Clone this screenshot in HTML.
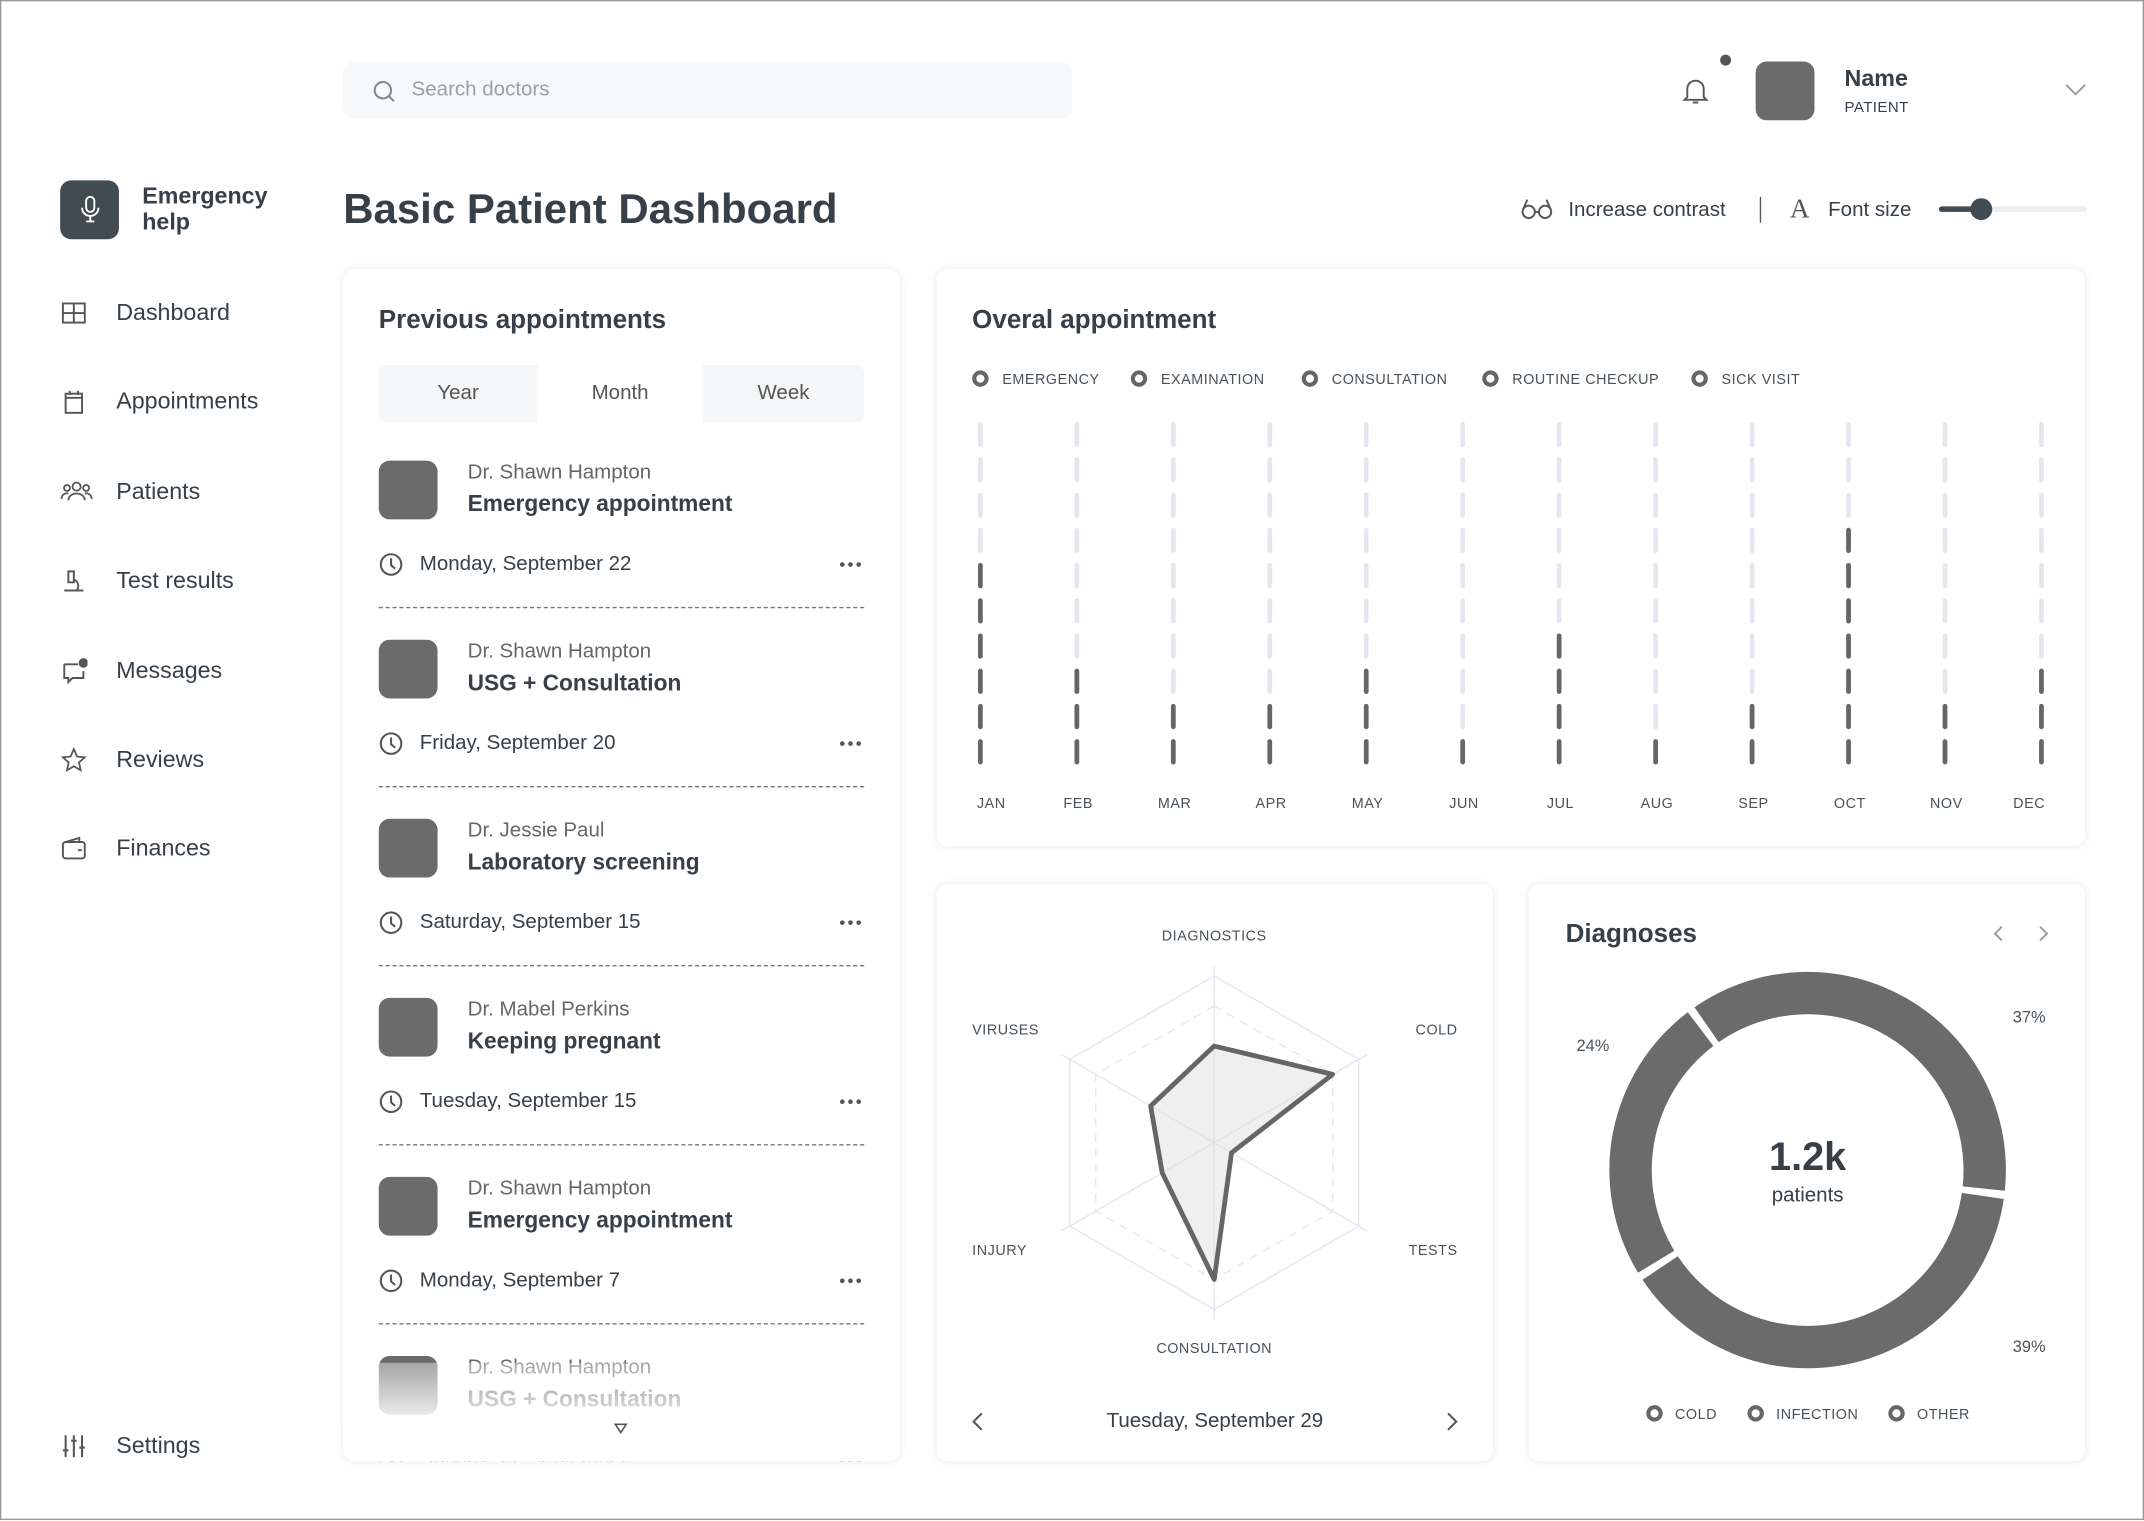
<!DOCTYPE html>
<html><head><meta charset="utf-8">
<style>
html,body{margin:0;padding:0;background:#fff;}
body{width:2144px;height:1520px;overflow:hidden;font-family:"Liberation Sans",sans-serif;color:#374048;}
#root{position:absolute;left:0;top:0;width:1568px;height:1112px;transform:scale(1.36735,1.36691);transform-origin:0 0;box-sizing:border-box;border:1px solid #9a9a9a;background:#fff;}
.abs{position:absolute;}
.card{position:absolute;background:#fff;border-radius:8px;box-shadow:0 0 6px rgba(0,0,0,0.09);}
.nav{position:absolute;left:84px;font-size:17px;color:#374048;transform:translateY(-50%);}
.navi{position:absolute;left:43px;width:20px;height:20px;transform:translateY(-50%);}
.t{position:absolute;white-space:nowrap;}
.ctitle{font-size:19px;font-weight:bold;color:#374048;}
</style></head><body>
<div id="root">

<!-- top bar -->
<div class="abs" style="left:250px;top:44px;width:533px;height:42px;background:#f8f9fa;border-radius:8px;">
  <svg class="abs" style="left:21px;top:13px" width="18" height="18"><circle cx="8" cy="8" r="6" fill="none" stroke="#888" stroke-width="1.5"/><line x1="12.5" y1="12.5" x2="16" y2="16" stroke="#888" stroke-width="1.5"/></svg>
  <div class="t" style="left:50px;top:12px;font-size:15px;color:#9aa0a6;">Search doctors</div>
</div>
<svg class="abs" style="left:1229px;top:55px" width="20" height="22"><path d="M4 15 V9 a6 6 0 0 1 12 0 V15 L18 17 H2 Z" fill="none" stroke="#555" stroke-width="1.4"/><path d="M8 19 h4" stroke="#555" stroke-width="1.4"/></svg>
<div class="abs" style="left:1257px;top:39px;width:8px;height:8px;border-radius:50%;background:#555;"></div>
<div class="abs" style="left:1283px;top:44px;width:43px;height:43px;border-radius:8px;background:#6b6b6b;"></div>
<div class="t" style="left:1348px;top:47px;font-size:17px;font-weight:bold;">Name</div>
<div class="t" style="left:1348px;top:72px;font-size:11px;letter-spacing:0.3px;">PATIENT</div>
<svg class="abs" style="left:1508px;top:59px" width="18" height="12"><path d="M2 2 L9 9 L16 2" fill="none" stroke="#999" stroke-width="1.4"/></svg>

<!-- sidebar -->
<div class="abs" style="left:43px;top:131px;width:43px;height:43px;border-radius:8px;background:#414b52;">
  <svg class="abs" style="left:13px;top:11px" width="18" height="22"><rect x="6" y="1" width="6" height="11" rx="3" fill="none" stroke="#fff" stroke-width="1.4"/><path d="M3 9 a6 6 0 0 0 12 0 M9 15 V19 M6 19 H12" fill="none" stroke="#fff" stroke-width="1.4"/></svg>
</div>
<div class="t" style="left:103px;top:133px;font-size:17px;font-weight:bold;line-height:19px;">Emergency<br>help</div>

<svg class="navi" style="top:228px"><rect x="2" y="3" width="16" height="14" fill="none" stroke="#555" stroke-width="1.4"/><path d="M10 3V17M2 10H18" stroke="#555" stroke-width="1.4"/></svg>
<div class="nav" style="top:228px">Dashboard</div>
<svg class="navi" style="top:293px"><rect x="4" y="4" width="12" height="14" fill="none" stroke="#555" stroke-width="1.4"/><path d="M7 2V5M13 2V5M4 7H16" stroke="#555" stroke-width="1.4"/></svg>
<div class="nav" style="top:293px">Appointments</div>
<svg class="navi" style="top:359px;width:24px"><circle cx="12" cy="6" r="3" fill="none" stroke="#555" stroke-width="1.3"/><circle cx="5" cy="7" r="2.2" fill="none" stroke="#555" stroke-width="1.3"/><circle cx="19" cy="7" r="2.2" fill="none" stroke="#555" stroke-width="1.3"/><path d="M6 16a6 5 0 0 1 12 0M1 15a4 4 0 0 1 5-4M23 15a4 4 0 0 0-5-4" fill="none" stroke="#555" stroke-width="1.3"/></svg>
<div class="nav" style="top:359px">Patients</div>
<svg class="navi" style="top:424px"><path d="M6 3H10V11H6ZM3 17H17M10 9a5 5 0 0 1 2 8" fill="none" stroke="#555" stroke-width="1.4"/></svg>
<div class="nav" style="top:424px">Test results</div>
<svg class="navi" style="top:490px"><path d="M3 5H13M3 5V15H6V18L9 15H17V10" fill="none" stroke="#555" stroke-width="1.4"/><circle cx="17" cy="4" r="3.5" fill="#555"/></svg>
<div class="nav" style="top:490px">Messages</div>
<svg class="navi" style="top:555px"><path d="M10 2L12.4 7.5L18 8L13.8 11.8L15 17.5L10 14.6L5 17.5L6.2 11.8L2 8L7.6 7.5Z" fill="none" stroke="#555" stroke-width="1.3"/></svg>
<div class="nav" style="top:555px">Reviews</div>
<svg class="navi" style="top:620px"><rect x="2" y="5" width="16" height="12" rx="2" fill="none" stroke="#555" stroke-width="1.4"/><path d="M4 5L14 2V5M13 11H16" fill="none" stroke="#555" stroke-width="1.4"/></svg>
<div class="nav" style="top:620px">Finances</div>
<svg class="navi" style="top:1057px"><path d="M4 2V18M10 2V18M16 2V18M2 13H6M8 6H12M14 11H18" stroke="#555" stroke-width="1.5"/></svg>
<div class="nav" style="top:1057px">Settings</div>

<!-- header -->
<div class="t" style="left:250px;top:134px;font-size:30.7px;font-weight:bold;color:#374048;">Basic Patient Dashboard</div>
<svg class="abs" style="left:1111px;top:143px" width="24" height="18"><circle cx="6" cy="11" r="4.5" fill="none" stroke="#555" stroke-width="1.4"/><circle cx="18" cy="11" r="4.5" fill="none" stroke="#555" stroke-width="1.4"/><path d="M10.5 11H13.5M2 9L5 2M22 9L19 2" fill="none" stroke="#555" stroke-width="1.4"/></svg>
<div class="t" style="left:1146px;top:144px;font-size:15px;">Increase contrast</div>
<div class="abs" style="left:1286px;top:143px;width:1px;height:19px;background:#555;"></div>
<div class="t" style="left:1308px;top:141px;font-size:20px;font-family:'Liberation Serif',serif;color:#555;">A</div>
<div class="t" style="left:1336px;top:144px;font-size:15px;">Font size</div>
<div class="abs" style="left:1417px;top:150px;width:108px;height:4px;background:#eceef0;border-radius:2px;">
  <div class="abs" style="left:0;top:0;width:31px;height:4px;background:#414b52;border-radius:2px;"></div>
  <div class="abs" style="left:23px;top:-6px;width:16px;height:16px;border-radius:50%;background:#414b52;"></div>
</div>

<!-- previous appointments -->
<div class="card" style="left:250px;top:196px;width:407px;height:872px;overflow:hidden;">
  <div class="t ctitle" style="left:26px;top:27px">Previous appointments</div>
  <div class="abs" style="left:26px;top:70px;width:116px;height:42px;background:#f5f6f7;border-radius:6px 0 0 6px;font-size:15px;text-align:center;line-height:42px;color:#555;">Year</div>
  <div class="abs" style="left:142px;top:70px;width:121px;height:42px;background:#fff;font-size:15px;text-align:center;line-height:42px;color:#555;">Month</div>
  <div class="abs" style="left:263px;top:70px;width:118px;height:42px;background:#f5f6f7;border-radius:0 6px 6px 0;font-size:15px;text-align:center;line-height:42px;color:#555;">Week</div>
  <div id="appts"></div>
  <div class="abs" style="left:0;top:800px;width:407px;height:72px;background:linear-gradient(rgba(255,255,255,0.4),#fff 70%);"></div>
  <svg class="abs" style="left:198px;top:844px" width="10" height="8"><path d="M1 1H9L5 7Z" fill="none" stroke="#555" stroke-width="1.2"/></svg>
</div>

<!-- overall appointment -->
<div class="card" style="left:684px;top:196px;width:840px;height:422px;">
  <div class="t ctitle" style="left:26px;top:27px">Overal appointment</div>
</div>
<svg class="abs" id="bars" style="left:0;top:0" width="1568" height="1112"></svg>

<!-- radar card -->
<div class="card" style="left:684px;top:646px;width:407px;height:422px;">
  <div class="t" style="left:0;width:407px;text-align:center;top:384px;font-size:15px;">Tuesday, September 29</div>
  <svg class="abs" style="left:24px;top:385px" width="12" height="16"><path d="M9 2L3 8L9 14" fill="none" stroke="#555" stroke-width="1.5"/></svg>
  <svg class="abs" style="left:371px;top:385px" width="12" height="16"><path d="M3 2L9 8L3 14" fill="none" stroke="#555" stroke-width="1.5"/></svg>
</div>
<svg class="abs" id="radar" style="left:0;top:0" width="1568" height="1112"></svg>

<!-- diagnoses -->
<div class="card" style="left:1117px;top:646px;width:407px;height:422px;">
  <div class="t ctitle" style="left:27px;top:26px">Diagnoses</div>
  <svg class="abs" style="left:338px;top:29px" width="10" height="16"><path d="M8 2L3 7L8 12" fill="none" stroke="#999" stroke-width="1.4"/></svg>
  <svg class="abs" style="left:372px;top:29px" width="10" height="16"><path d="M2 2L7 7L2 12" fill="none" stroke="#999" stroke-width="1.4"/></svg>
  <div class="t" style="left:0;width:408px;text-align:center;top:184px;font-size:29px;font-weight:bold;">1.2k</div>
  <div class="t" style="left:0;width:408px;text-align:center;top:219px;font-size:15px;">patients</div>
</div>
<svg class="abs" id="donut" style="left:0;top:0" width="1568" height="1112"></svg>

</div>
<script>
const NS='http://www.w3.org/2000/svg';
function mk(parent,tag,attrs){const e=document.createElementNS(NS,tag);for(const k in attrs)e.setAttribute(k,attrs[k]);parent.appendChild(e);return e;}

// ---------- appointments ----------
const apptDoctors=['Dr. Shawn Hampton','Dr. Shawn Hampton','Dr. Jessie Paul','Dr. Mabel Perkins','Dr. Shawn Hampton','Dr. Shawn Hampton'];
const apptTitles=['Emergency appointment','USG + Consultation','Laboratory screening','Keeping pregnant','Emergency appointment','USG + Consultation'];
const apptDates=['Monday, September 22','Friday, September 20','Saturday, September 15','Tuesday, September 15','Monday, September 7','Sunday, 22 September'];
const ap=document.getElementById('appts');
apptDoctors.forEach((d,i)=>{
  const y=140+i*131;
  const w=document.createElement('div');
  
  
  w.innerHTML=
   `<div class="abs" style="left:26px;top:${y}px;width:43px;height:43px;border-radius:8px;background:#6b6b6b;"></div>`+
   `<div class="t" style="left:91px;top:${y}px;font-size:15px;color:#666;">${d}</div>`+
   `<div class="t" style="left:91px;top:${y+22}px;font-size:16.6px;font-weight:bold;">${apptTitles[i]}</div>`+
   `<svg class="abs" style="left:26px;top:${y+67}px" width="18" height="18"><circle cx="9" cy="9" r="7.5" fill="none" stroke="#555" stroke-width="1.5"/><path d="M9 4.5V9.5L12 12" fill="none" stroke="#555" stroke-width="1.5"/></svg>`+
   `<div class="t" style="left:56px;top:${y+67}px;font-size:15px;">${apptDates[i]}</div>`+
   `<svg class="abs" style="left:362px;top:${y+73}px" width="18" height="6"><circle cx="3" cy="3" r="1.7" fill="#555"/><circle cx="9" cy="3" r="1.7" fill="#555"/><circle cx="15" cy="3" r="1.7" fill="#555"/></svg>`+
   `<div class="abs" style="left:26px;top:${y+107}px;width:355px;border-top:1px dashed #777;"></div>`;
  ap.appendChild(w);
});

// ---------- bar chart ----------
const months=['JAN','FEB','MAR','APR','MAY','JUN','JUL','AUG','SEP','OCT','NOV','DEC'];
const counts=[6,3,2,2,3,1,4,1,2,7,2,3];
const maxSlots=10;
const legendLabels=['EMERGENCY','EXAMINATION','CONSULTATION','ROUTINE CHECKUP','SICK VISIT'];
const bs=document.getElementById('bars');
const bx0=716,bx1=1492,byTop=317,byBot=549;
function xMonth(i){return bx0+(bx1-bx0)*i/(months.length-1);}
function ySlot(j){return byBot-(byBot-byTop)*j/(maxSlots-1);}
let lx=[716,832,957,1089,1242];
legendLabels.forEach((l,i)=>{
  const c=mk(bs,'circle',{cx:lx[i],cy:276,r:4.5,fill:'none',stroke:'#666','stroke-width':3});
  
  
  const t=mk(bs,'text',{x:lx[i]+16,y:280,'font-size':10.5,fill:'#4a5258','letter-spacing':0.4});
  t.textContent=l;
  
  
});
months.forEach((m,i)=>{
  const x=xMonth(i);
  for(let j=0;j<maxSlots;j++){
    const y=ySlot(j);
    const on=j<counts[i];
    const r=mk(bs,'line',{x1:x,y1:y-7.5,x2:x,y2:y+7.5,stroke:on?'#666':'#e4e8ee','stroke-width':3.5,'stroke-linecap':'round'});
    
    
  }
  const t=mk(bs,'text',{x:x+(i==0?8:i==11?-9:1),y:590,'font-size':10.5,fill:'#4a5258','text-anchor':'middle','letter-spacing':0.4});
  t.textContent=m;
  
  
});

// ---------- radar ----------
const radarAxes=['DIAGNOSTICS','COLD','TESTS','CONSULTATION','INJURY','VIRUSES'];
const radarValues=[0.58,0.82,0.12,0.82,0.36,0.44];
const rd=document.getElementById('radar');
const rcx=887,rcy=835,R=122;
function rpt(i,v){const a=-Math.PI/2+i*Math.PI/3;return [rcx+R*v*Math.cos(a),rcy+R*v*Math.sin(a)];}
[1,0.82].forEach((lv,k)=>{
  const pts=radarAxes.map((_,i)=>rpt(i,lv).join(',')).join(' ');
  const p=mk(rd,'polygon',{points:pts,fill:'none',stroke:'#e3e7ee','stroke-width':1,'stroke-dasharray':k?'6 5':'none'});
  
  
});
radarAxes.forEach((a,i)=>{
  const e=rpt(i,1.06);
  const l=mk(rd,'line',{x1:rcx,y1:rcy,x2:e[0],y2:e[1],stroke:'#e3e7ee'});
  
  
});
const poly=mk(rd,'polygon',{points:radarValues.map((v,i)=>rpt(i,v).join(',')).join(' '),fill:'rgba(220,220,220,0.45)',stroke:'#666','stroke-width':3.5,'stroke-linejoin':'round'});


const labPos=[[887,687,'middle'],[1065,756,'end'],[1065,917,'end'],[887,989,'middle'],[710,917,'start'],[710,756,'start']];
radarAxes.forEach((a,i)=>{
  const t=mk(rd,'text',{x:labPos[i][0],y:labPos[i][1],'font-size':10.5,fill:'#4a5258','text-anchor':labPos[i][2],'letter-spacing':0.4});
  t.textContent=a;
  
  
});

// ---------- donut ----------
const donutLabels=['COLD','INFECTION','OTHER'];
const donutValues=[37,39,24];
const dn=document.getElementById('donut');
const dcx=1321,dcy=855,ro=145,ri=114,startDeg=-36;
const tot=donutValues.reduce((a,b)=>a+b,0);
function pol(r,deg){const a=(deg-90)*Math.PI/180;return [dcx+r*Math.cos(a),dcy+r*Math.sin(a)];}
let ang=startDeg;
const labelPts=[[1483,747],[1483,988],[1164,768]];
donutValues.forEach((v,i)=>{
  const a0=ang+1.2,a1=ang+v/tot*360-1.2;
  const large=(a1-a0)>180?1:0;
  const p1=pol(ro,a0),p2=pol(ro,a1),p3=pol(ri,a1),p4=pol(ri,a0);
  const p=mk(dn,'path',{d:`M${p1}A${ro},${ro} 0 ${large} 1 ${p2}L${p3}A${ri},${ri} 0 ${large} 0 ${p4}Z`,fill:'#6b6b6b'});
  
  
  const t=mk(dn,'text',{x:labelPts[i][0],y:labelPts[i][1],'font-size':12,fill:'#4a5258','text-anchor':'middle'});
  t.textContent=v+'%';
  
  
  ang+=v/tot*360;
});
const dlx=[1209,1283,1386];
donutLabels.forEach((l,i)=>{
  const c=mk(dn,'circle',{cx:dlx[i],cy:1033,r:4.5,fill:'none',stroke:'#666','stroke-width':3});
  
  
  const t=mk(dn,'text',{x:dlx[i]+15,y:1037,'font-size':10.5,fill:'#4a5258','letter-spacing':0.4});
  t.textContent=l;
  
  
});
</script>
</body></html>
